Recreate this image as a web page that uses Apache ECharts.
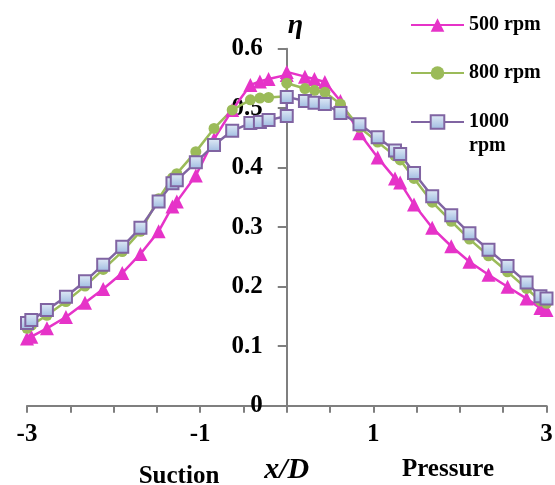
<!DOCTYPE html>
<html>
<head>
<meta charset="utf-8">
<script src="https://cdn.jsdelivr.net/npm/echarts@6/dist/echarts.min.js"></script>
<style>
html,body{margin:0;padding:0;background:#fff;}
#chart{width:555px;height:485px;}
</style>
</head>
<body>
<div id="chart"></div>
<script>
// x/D positions of the measurement points
const xPos = [-3, -2.95, -2.77, -2.55, -2.33, -2.12, -1.9, -1.69, -1.48, -1.32, -1.27, -1.05, -0.84, -0.63, -0.42, -0.31, -0.21, 0, 0,
  0.21, 0.32, 0.44, 0.62, 0.84, 1.05, 1.25, 1.31, 1.47, 1.68, 1.9, 2.11, 2.33, 2.55, 2.77, 2.93, 3];
const eta500 = [0.113, 0.116, 0.130, 0.149, 0.173, 0.196, 0.223, 0.255, 0.293, 0.335, 0.343, 0.387, 0.448, 0.497, 0.539, 0.545, 0.549, 0.556, 0.561,
  0.553, 0.549, 0.544, 0.512, 0.458, 0.417, 0.382, 0.375, 0.338, 0.299, 0.268, 0.242, 0.220, 0.200, 0.180, 0.164, 0.161];
const eta800 = [0.130, 0.135, 0.152, 0.175, 0.201, 0.229, 0.259, 0.293, 0.348, 0.383, 0.390, 0.427, 0.466, 0.497, 0.514, 0.517, 0.518, 0.520, 0.542,
  0.533, 0.530, 0.527, 0.507, 0.468, 0.443, 0.420, 0.413, 0.382, 0.342, 0.310, 0.280, 0.252, 0.225, 0.197, 0.176, 0.172];
const eta1000 = [0.139, 0.144, 0.161, 0.183, 0.209, 0.237, 0.267, 0.299, 0.343, 0.374, 0.379, 0.409, 0.438, 0.462, 0.475, 0.477, 0.480, 0.487, 0.519,
  0.512, 0.509, 0.507, 0.492, 0.473, 0.451, 0.429, 0.423, 0.391, 0.352, 0.320, 0.290, 0.262, 0.235, 0.207, 0.184, 0.180];
const seriesNames = ['500 rpm', '800 rpm', '1000 rpm'];
const xTickLabels = [-3, -1, 1, 3];
const yTickLabels = ['0', '0.1', '0.2', '0.3', '0.4', '0.5', '0.6'];

const FONT = '"Liberation Serif", "Times New Roman", serif';
const pairs = arr => xPos.map((x, i) => [x, arr[i]]);
const axisGray = '#7f7f7f';
const GRID_LEFT = 27, GRID_RIGHT = 8.5;
const gridWidth = 555 - GRID_LEFT - GRID_RIGHT;

const chart = echarts.init(document.getElementById('chart'), null, {renderer: 'canvas'});
const legendBase = {
  orient: 'vertical', left: 410, padding: 0, itemGap: 0,
  itemWidth: 53, itemHeight: 17, itemTextGap: 5, selectedMode: false,
  textStyle: {fontFamily: FONT, fontWeight: 'bold', fontSize: 20, color: '#000', lineHeight: 24}
};
const yLabelStyle = {
  margin: 24, fontFamily: FONT, fontWeight: 'bold', fontSize: 25, color: '#000',
  formatter: (v) => yTickLabels[Math.round(v * 10)]
};
chart.setOption({
  animation: false,
  backgroundColor: '#fff',
  grid: {left: GRID_LEFT, right: GRID_RIGHT, top: 48.7, bottom: 79.3, containLabel: false, outerBoundsMode: 'none'},
  legend: [
    Object.assign({}, legendBase, {data: [seriesNames[0]], top: 13}),
    Object.assign({}, legendBase, {data: [seriesNames[1]], top: 61}),
    Object.assign({}, legendBase, {
      data: [seriesNames[2]], top: 86,
      formatter: n => '\n' + n.replace(' ', '\n')
    })
  ],
  xAxis: {
    type: 'value', min: -3, max: 3, interval: 0.5,
    name: 'x/D', nameLocation: 'middle', nameGap: 50,
    nameTextStyle: {fontFamily: FONT, fontWeight: 'bold', fontStyle: 'italic', fontSize: 30, color: '#000'},
    splitLine: {show: false},
    axisLine: {show: true, onZero: false, lineStyle: {color: axisGray, width: 2}},
    axisTick: {show: true, length: 7, lineStyle: {color: axisGray, width: 2}},
    axisLabel: {
      margin: 16, fontFamily: FONT, fontWeight: 'bold', fontSize: 25, color: '#000',
      formatter: v => xTickLabels.indexOf(v) >= 0 ? String(v) : ''
    }
  },
  yAxis: [
    {
      // axis line and ticks, crossing the x axis at x/D = 0
      type: 'value', min: 0, max: 0.6, interval: 0.1, position: 'left',
      splitLine: {show: false},
      axisLine: {show: true, onZero: true, lineStyle: {color: axisGray, width: 2}},
      axisTick: {show: true, inside: false, length: 9, lineStyle: {color: axisGray, width: 2}},
      axisLabel: {show: false}
    },
    {
      // tick labels and title next to the central axis
      type: 'value', min: 0, max: 0.6, interval: 0.1, position: 'left',
      offset: -gridWidth / 2, z: 3,
      name: 'η', nameLocation: 'end', nameGap: 9,
      nameTextStyle: {fontFamily: FONT, fontWeight: 'bold', fontStyle: 'italic', fontSize: 28, color: '#000', align: 'left', padding: [0, 0, 0, 1]},
      splitLine: {show: false},
      axisLine: {show: false, onZero: false},
      axisTick: {show: false},
      axisLabel: yLabelStyle
    }
  ],
  graphic: [
    {type: 'text', x: 179, y: 477, style: {text: 'Suction', font: 'bold 25px ' + FONT, fill: '#000', align: 'center', verticalAlign: 'middle'}},
    {type: 'text', x: 448, y: 470, style: {text: 'Pressure', font: 'bold 25px ' + FONT, fill: '#000', align: 'center', verticalAlign: 'middle'}}
  ],
  series: [
    {
      name: seriesNames[0], type: 'line', data: pairs(eta500), yAxisIndex: 0,
      symbol: 'triangle', symbolSize: 14, showAllSymbol: true,
      lineStyle: {color: '#E633C8', width: 2.5},
      itemStyle: {color: '#E633C8', borderWidth: 0}
    },
    {
      name: seriesNames[1], type: 'line', data: pairs(eta800), yAxisIndex: 0,
      symbol: 'circle', symbolSize: 11, showAllSymbol: true,
      lineStyle: {color: '#9BBB59', width: 2.5},
      itemStyle: {color: '#9BBB59', borderWidth: 0}
    },
    {
      name: seriesNames[2], type: 'line', data: pairs(eta1000), yAxisIndex: 0,
      symbol: 'rect', symbolSize: 12, showAllSymbol: true,
      lineStyle: {color: '#8064A2', width: 2.5},
      itemStyle: {
        color: new echarts.graphic.LinearGradient(0, 0, 0, 1, [{offset: 0, color: '#E3ECF7'}, {offset: 1, color: '#9DBAE0'}]),
        borderColor: '#8064A2', borderWidth: 2
      }
    }
  ]
});
</script>
</body>
</html>
